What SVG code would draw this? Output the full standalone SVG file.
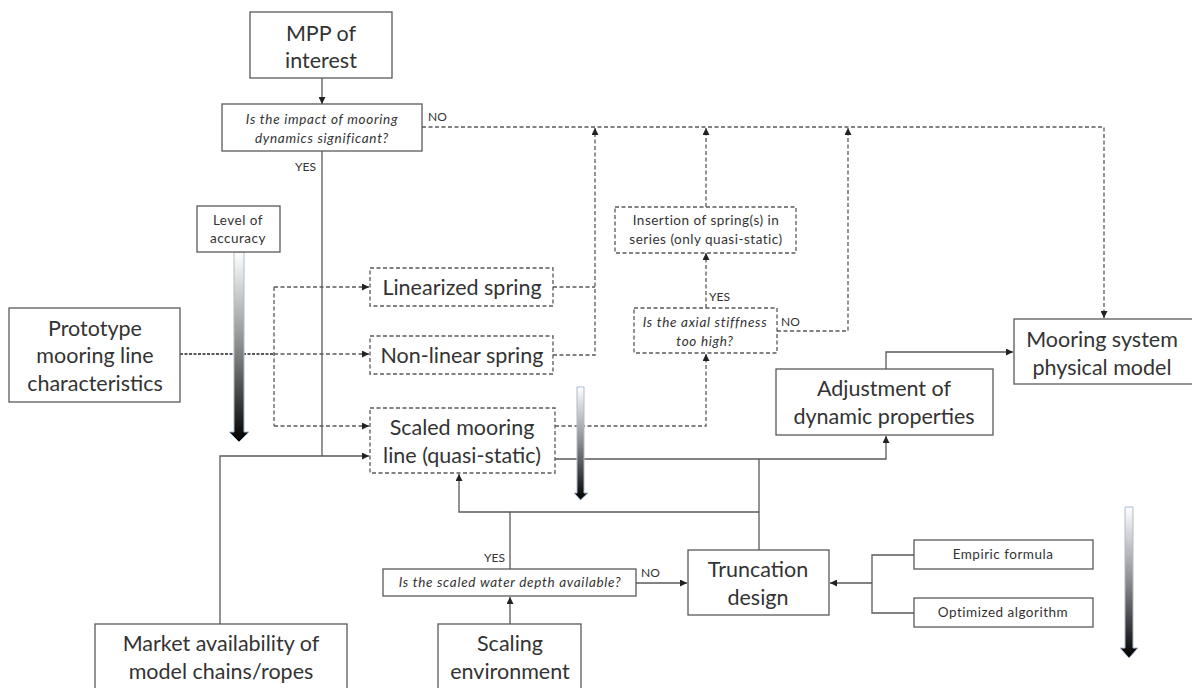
<svg xmlns="http://www.w3.org/2000/svg" width="1192" height="688" viewBox="0 0 1192 688">
<defs>
<marker id="ah" viewBox="0 0 10 10" refX="10" refY="5" markerWidth="7" markerHeight="7" orient="auto" markerUnits="userSpaceOnUse">
<path d="M0,0 L10,5 L0,10 z" fill="#222"/>
</marker>
<linearGradient id="grad" x1="0" y1="0" x2="0" y2="1">
<stop offset="0" stop-color="#ffffff"/>
<stop offset="0.5" stop-color="#8a8a8a"/>
<stop offset="1" stop-color="#000000"/>
</linearGradient>
<style>
.box{fill:#fff;stroke:#595959;stroke-width:1.3}
.dbox{fill:#fff;stroke:#595959;stroke-width:1.3;stroke-dasharray:4 2.5}
.ln{fill:none;stroke:#595959;stroke-width:1.3}
.dl{fill:none;stroke:#595959;stroke-width:1.3;stroke-dasharray:4 2.5}
.dot{fill:none;stroke:#595959;stroke-width:2.2;stroke-dasharray:3 1.5}
.t{font-family:Lato,"Open Sans","Liberation Sans",sans-serif;fill:#333;text-anchor:middle}
.big{font-size:21.5px}
.sm{font-size:13.5px;letter-spacing:0.5px}
.it{font-style:italic;font-size:13.5px;letter-spacing:0.7px}
.lab{font-family:Lato,"Open Sans","Liberation Sans",sans-serif;fill:#333;font-size:12px}
.ga{stroke:#a9bdd6;stroke-width:1;fill:url(#grad)}
</style>
</defs>

<g id="connectors">
<path class="ln" d="M322,78 V104" marker-end="url(#ah)"/>
<path class="ln" d="M322,151 V456"/>
<path class="dl" d="M422,127 H1104 V318" marker-end="url(#ah)"/>
<path class="dot" d="M180,354 H274"/>
<path class="dl" d="M274,354 H369" marker-end="url(#ah)"/>
<path class="dl" d="M274,287 V426"/>
<path class="dl" d="M274,287 H369" marker-end="url(#ah)"/>
<path class="dl" d="M274,426 H369" marker-end="url(#ah)"/>
<path class="dl" d="M553,287 H595"/>
<path class="dl" d="M553,355 H595 V128" marker-end="url(#ah)"/>
<path class="dl" d="M706,207 V128" marker-end="url(#ah)"/>
<path class="dl" d="M706,308 V253" marker-end="url(#ah)"/>
<path class="dl" d="M777,331 H848 V128" marker-end="url(#ah)"/>
<path class="dl" d="M555,426 H706 V354" marker-end="url(#ah)"/>
<path class="ln" d="M220,624 V456 H369" marker-end="url(#ah)"/>
<path class="ln" d="M555,459 H886 V436" marker-end="url(#ah)"/>
<path class="ln" d="M886,369 V352 H1013" marker-end="url(#ah)"/>
<path class="ln" d="M759,459 V550"/>
<path class="ln" d="M510,569 V512 H759"/>
<path class="ln" d="M510,512 H459 V474" marker-end="url(#ah)"/>
<path class="ln" d="M510,624 V597" marker-end="url(#ah)"/>
<path class="ln" d="M636,583 H687" marker-end="url(#ah)"/>
<path class="ln" d="M914,555 H872 V613 H914"/>
<path class="ln" d="M872,583 H830" marker-end="url(#ah)"/>
</g>

<g id="accuracy-arrows">
<path class="ga" d="M234,252 H244 V432 H249 L239,442 L229,432 H234 Z"/>
<path class="ga" d="M577,387 H584 V493 H588 L580.5,500 L574,493 H577 Z"/>
<path class="ga" d="M1125,507 H1133 V648 H1138 L1129,658 L1120,648 H1125 Z"/>
</g>

<g id="mpp">
<rect class="box" x="250" y="12" width="142" height="66"/>
<text class="t big" x="321" y="41">MPP of</text>
<text class="t big" x="321" y="68">interest</text>
</g>

<g id="q-impact">
<rect class="box" x="222" y="104" width="200" height="47"/>
<text class="t it" x="322" y="124">Is the impact of mooring</text>
<text class="t it" x="322" y="143">dynamics significant?</text>
</g>
<text class="lab" x="428" y="121">NO</text>
<text class="lab" x="295" y="171">YES</text>

<g id="level">
<rect class="box" x="197" y="206" width="83" height="46"/>
<text class="t sm" x="238" y="225">Level of</text>
<text class="t sm" x="238" y="243">accuracy</text>
</g>

<g id="prototype">
<rect class="box" x="9" y="308" width="171" height="94"/>
<text class="t big" x="95" y="336">Prototype</text>
<text class="t big" x="95" y="363">mooring line</text>
<text class="t big" x="95" y="391">characteristics</text>
</g>

<g id="linearized">
<rect class="dbox" x="370" y="268" width="183" height="38"/>
<text class="t big" x="462" y="295">Linearized spring</text>
</g>

<g id="nonlinear">
<rect class="dbox" x="370" y="336" width="183" height="38"/>
<text class="t big" x="462" y="363">Non-linear spring</text>
</g>

<g id="scaled">
<rect class="dbox" x="370" y="408" width="185" height="65"/>
<text class="t big" x="462" y="435">Scaled mooring</text>
<text class="t big" x="462" y="463">line (quasi-static)</text>
</g>

<g id="insertion">
<rect class="dbox" x="615" y="207" width="181" height="46"/>
<text class="t sm" x="706" y="225">Insertion of spring(s) in</text>
<text class="t sm" x="706" y="244">series (only quasi-static)</text>
</g>

<g id="q-axial">
<rect class="dbox" x="634" y="308" width="143" height="45"/>
<text class="t it" x="705" y="327">Is the axial stiffness</text>
<text class="t it" x="705" y="346">too high?</text>
</g>
<text class="lab" x="709" y="301">YES</text>
<text class="lab" x="781" y="326">NO</text>

<g id="mooring-system">
<rect class="box" x="1014" y="319" width="190" height="65"/>
<text class="t big" x="1102" y="347">Mooring system</text>
<text class="t big" x="1102" y="375">physical model</text>
</g>

<g id="adjustment">
<rect class="box" x="776" y="369" width="217" height="66"/>
<text class="t big" x="884" y="396">Adjustment of</text>
<text class="t big" x="884" y="424">dynamic properties</text>
</g>

<g id="q-depth">
<rect class="box" x="383" y="569" width="253" height="27"/>
<text class="t it" x="510" y="587">Is the scaled water depth available?</text>
</g>
<text class="lab" x="484" y="562">YES</text>
<text class="lab" x="641" y="577">NO</text>

<g id="truncation">
<rect class="box" x="688" y="550" width="141" height="65"/>
<text class="t big" x="758" y="577">Truncation</text>
<text class="t big" x="758" y="605">design</text>
</g>

<g id="empiric">
<rect class="box" x="914" y="540" width="179" height="29"/>
<text class="t sm" x="1003" y="559">Empiric formula</text>
</g>

<g id="optimized">
<rect class="box" x="914" y="598" width="179" height="29"/>
<text class="t sm" x="1003" y="617">Optimized algorithm</text>
</g>

<g id="scaling">
<rect class="box" x="438" y="624" width="143" height="70"/>
<text class="t big" x="510" y="651">Scaling</text>
<text class="t big" x="510" y="679">environment</text>
</g>

<g id="market">
<rect class="box" x="95" y="624" width="252" height="70"/>
<text class="t big" x="221" y="651">Market availability of</text>
<text class="t big" x="221" y="679">model chains/ropes</text>
</g>
</svg>
